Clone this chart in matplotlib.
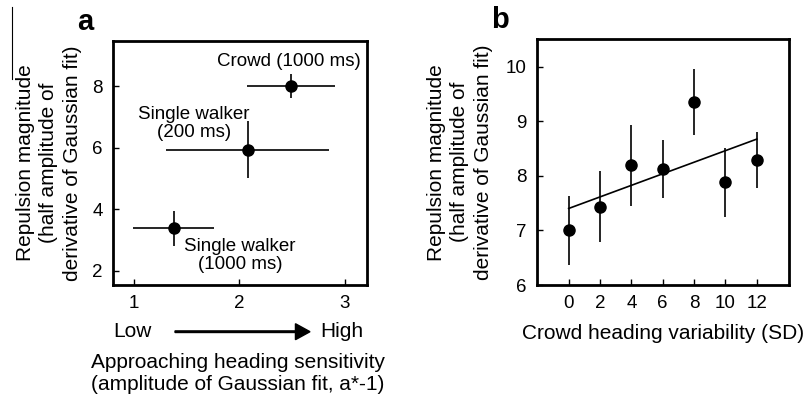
import numpy as np
import matplotlib
matplotlib.use("Agg")
import matplotlib.pyplot as plt
from matplotlib.lines import Line2D

plt.rcParams['font.family'] = ['Liberation Sans', 'DejaVu Sans']

# ---- Panel a data ----
a_labels = ["Single walker\n(1000 ms)", "Single walker\n(200 ms)", "Crowd (1000 ms)"]
a_x = [1.38, 2.08, 2.49]
a_y = [3.37, 5.93, 8.0]
a_xerr = [0.385, 0.775, 0.42]
a_yerr = [0.57, 0.92, 0.40]
a_xticks = [1, 2, 3]
a_yticks = [2, 4, 6, 8]

# ---- Panel b data ----
b_x = [0, 2, 4, 6, 8, 10, 12]
b_y = [7.0, 7.43, 8.19, 8.12, 9.35, 7.88, 8.29]
b_yerr = [0.63, 0.65, 0.74, 0.53, 0.60, 0.63, 0.52]
b_yticks = [6, 7, 8, 9, 10]

ylabel = "Repulsion magnitude\n(half amplitude of\nderivative of Gaussian fit)"

fig = plt.figure(figsize=(8.08, 3.99), dpi=100)
axa = fig.add_axes([0.1395, 0.2857, 0.3143, 0.612])
axb = fig.add_axes([0.6642, 0.2857, 0.3127, 0.6157])

for ax in (axa, axb):
    for s in ax.spines.values():
        s.set_linewidth(2.0)
    ax.tick_params(direction='in', length=4, width=1, labelsize=13.5, pad=7)

# Panel a
axa.errorbar(a_x, a_y, xerr=a_xerr, yerr=a_yerr, fmt='o', color='black',
             ms=8, elinewidth=1.2, capsize=0)
axa.set_xlim(0.8, 3.21)
axa.set_ylim(1.53, 9.47)
axa.set_xticks(a_xticks)
axa.set_yticks(a_yticks)
axa.text(2.47, 8.79, a_labels[2], ha='center', va='center', fontsize=13.5)
axa.text(1.57, 6.78, a_labels[1], ha='center', va='center', fontsize=13.5, linespacing=1.1)
axa.text(2.01, 2.48, a_labels[0], ha='center', va='center', fontsize=13.5, linespacing=1.1)
axa.set_ylabel(ylabel, fontsize=15, linespacing=1.3)
axa.yaxis.set_label_coords(-0.121, 0.5)

# Panel b
axb.errorbar(b_x, b_y, yerr=b_yerr, fmt='o', color='black',
             ms=8, elinewidth=1.2, capsize=0)
slope, intercept = np.polyfit(b_x, b_y, 1)
fx = np.array([b_x[0], b_x[-1]])
axb.plot(fx, intercept + slope * fx, color='black', lw=1.2)
axb.set_xlim(-2.04, 14.08)
axb.set_ylim(6, 10.5)
axb.set_xticks(b_x)
axb.set_yticks(b_yticks)
axb.set_ylabel(ylabel, fontsize=15, linespacing=1.3)
axb.yaxis.set_label_coords(-0.173, 0.5)
axb.set_xlabel("Crowd heading variability (SD)", fontsize=15)
axb.xaxis.set_label_coords(0.5, -0.158)

W, H = 808.0, 399.0
def fx_(px):
    return px / W
def fy_(py):
    return 1 - py / H

# Panel a custom x label
fig.text(fx_(113), fy_(331.7), "Low", ha='left', va='center', fontsize=15)
fig.text(fx_(363), fy_(331.7), "High", ha='right', va='center', fontsize=15)
fig.patches.append(matplotlib.patches.FancyArrow(
    fx_(175), fy_(331.7), fx_(310) - fx_(175), 0, width=0.004, head_width=0.04,
    head_length=0.018, length_includes_head=True, color='black',
    transform=fig.transFigure, figure=fig))
fig.text(fx_(238), fy_(363), "Approaching heading sensitivity", ha='center', va='center', fontsize=15)
fig.text(fx_(238), fy_(384), "(amplitude of Gaussian fit, a*-1)", ha='center', va='center', fontsize=15)

# Panel letters
fig.text(fx_(85), fy_(22), "a", ha='center', va='center', fontsize=21, fontweight='bold')
fig.text(fx_(500), fy_(20), "b", ha='center', va='center', fontsize=21, fontweight='bold')

# stray line at top-left of reference
fig.add_artist(Line2D([fx_(12.3), fx_(12.3)], [fy_(7), fy_(79)], color='black', lw=0.8,
                      transform=fig.transFigure))

fig.savefig("out.png", dpi=100)
